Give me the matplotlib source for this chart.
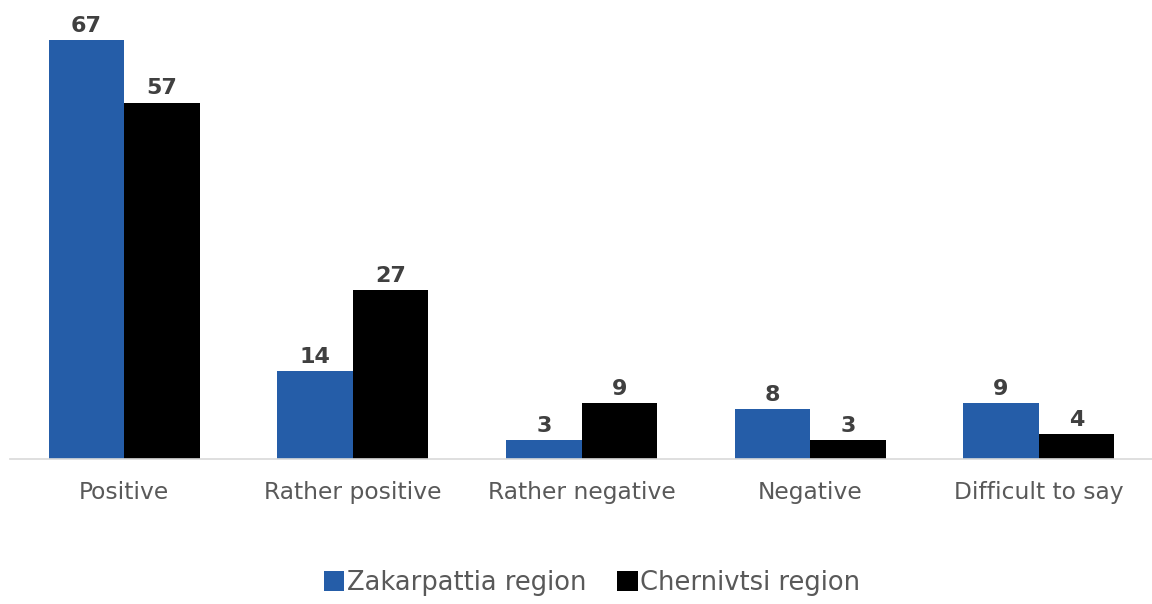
import matplotlib.pyplot as plt
import numpy as np

categories = ["Positive", "Rather positive", "Rather negative", "Negative", "Difficult to say"]
zakarpattia = [67, 14, 3, 8, 9]
chernivtsi = [57, 27, 9, 3, 4]
series_names = ["Zakarpattia region", "Chernivtsi region"]

plt.rcParams['font.family'] = ['DejaVu Sans']

fig = plt.figure(figsize=(11.52, 6.04), dpi=100)
ax = fig.add_axes([10 / 1152, 145 / 604, 1143 / 1152, 0.725])

x = np.arange(len(categories))
w = 0.33
b1 = ax.bar(x - w / 2, zakarpattia, w, color='#255da8', label=series_names[0])
b2 = ax.bar(x + w / 2, chernivtsi, w, color='#000000', label=series_names[1])

for bars in (b1, b2):
    for bar in bars:
        ax.annotate(f"{bar.get_height():g}",
                    (bar.get_x() + bar.get_width() / 2, bar.get_height()),
                    xytext=(0, 3), textcoords='offset points',
                    ha='center', va='bottom', fontsize=16, fontweight='bold',
                    color='#404040')

ax.set_xlim(-0.5, len(categories) - 0.5)
ax.set_ylim(0, 67 / (419 / (0.725 * 604)))
ax.set_xticks(x)
ax.set_xticklabels(categories, fontsize=16.8, color='#595959')
ax.tick_params(axis='x', length=0, pad=16)
ax.set_yticks([])
for s in ['top', 'right', 'left']:
    ax.spines[s].set_visible(False)
ax.spines['bottom'].set_color('#d9d9d9')
ax.spines['bottom'].set_linewidth(1.2)

fig.legend(loc='center', bbox_to_anchor=(592 / 1152, 21 / 604), ncol=2, frameon=False,
           fontsize=18.5, labelcolor='#595959', handlelength=0.8, handleheight=0.8,
           handletextpad=0.1, columnspacing=1.2)

fig.savefig('out.png', dpi=100)
